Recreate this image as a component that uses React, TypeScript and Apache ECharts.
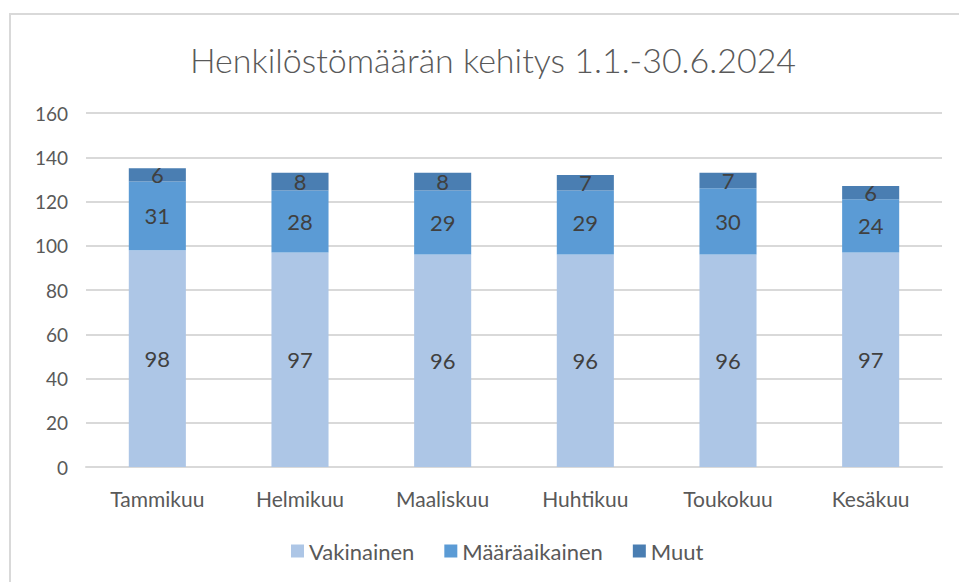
import React, { useEffect, useRef } from "react";
import * as echarts from "echarts";

const categories = ["Tammikuu", "Helmikuu", "Maaliskuu", "Huhtikuu", "Toukokuu", "Kesäkuu"];
const vakinainen = [98, 97, 96, 96, 96, 97];
const maaraaikainen = [31, 28, 29, 29, 30, 24];
const muut = [6, 8, 8, 7, 7, 6];
const seriesNames = ["Vakinainen", "Määräaikainen", "Muut"];
const colors = ["#adc6e6", "#5b9bd5", "#4a7eb2"];

const FONT = "Lato, 'Open Sans', sans-serif";

export default function App() {
  const ref = useRef<HTMLDivElement>(null);
  useEffect(() => {
    if (!ref.current) return;
    const chart = echarts.init(ref.current, null, { renderer: "svg" });
    const datasets = [vakinainen, maaraaikainen, muut];
    chart.setOption({
      animation: false,
      title: {
        text: "Henkilöstömäärän kehitys 1.1.-30.6.2024",
        left: 488,
        textAlign: "center",
        top: 37,
        textStyle: { fontFamily: FONT, fontSize: 34, fontWeight: 300, color: "#595959" },
      },
      graphic: [
        { type: "line", shape: { x1: 9, y1: 14, x2: 959, y2: 14 }, style: { stroke: "#d9d9d9", lineWidth: 2 } },
        { type: "line", shape: { x1: 10, y1: 14, x2: 10, y2: 582 }, style: { stroke: "#d9d9d9", lineWidth: 2 } },
      ],
      grid: { left: 86, right: 17, top: 113, bottom: 115 },
      legend: {
        bottom: 15,
        left: 286,
        itemWidth: 13,
        itemHeight: 13,
        itemGap: 30,
        icon: "rect",
        textStyle: { fontFamily: FONT, fontSize: 22, color: "#595959" },
        data: seriesNames,
      },
      xAxis: {
        type: "category",
        data: categories,
        axisLine: { lineStyle: { color: "#d9d9d9", width: 2 } },
        axisTick: { show: false },
        axisLabel: { fontFamily: FONT, fontSize: 21, color: "#595959", margin: 21 },
      },
      yAxis: {
        type: "value",
        min: 0,
        max: 160,
        interval: 20,
        axisLine: { show: false },
        axisTick: { show: false },
        splitLine: { lineStyle: { color: "#d9d9d9", width: 2 } },
        axisLabel: { fontFamily: FONT, fontSize: 19, color: "#595959", margin: 18 },
      },
      series: datasets.map((d, i) => ({
        name: seriesNames[i],
        type: "bar",
        stack: "total",
        data: d,
        barWidth: "40%",
        itemStyle: { color: colors[i] },
        label: {
          show: true,
          position: "inside",
          fontFamily: FONT,
          fontSize: 22,
          color: "#404040",
        },
      })),
    });
    return () => chart.dispose();
  }, []);
  return <div ref={ref} style={{ width: 959, height: 582, position: "absolute", left: 0, top: 0, background: "#fff" }} />;
}
